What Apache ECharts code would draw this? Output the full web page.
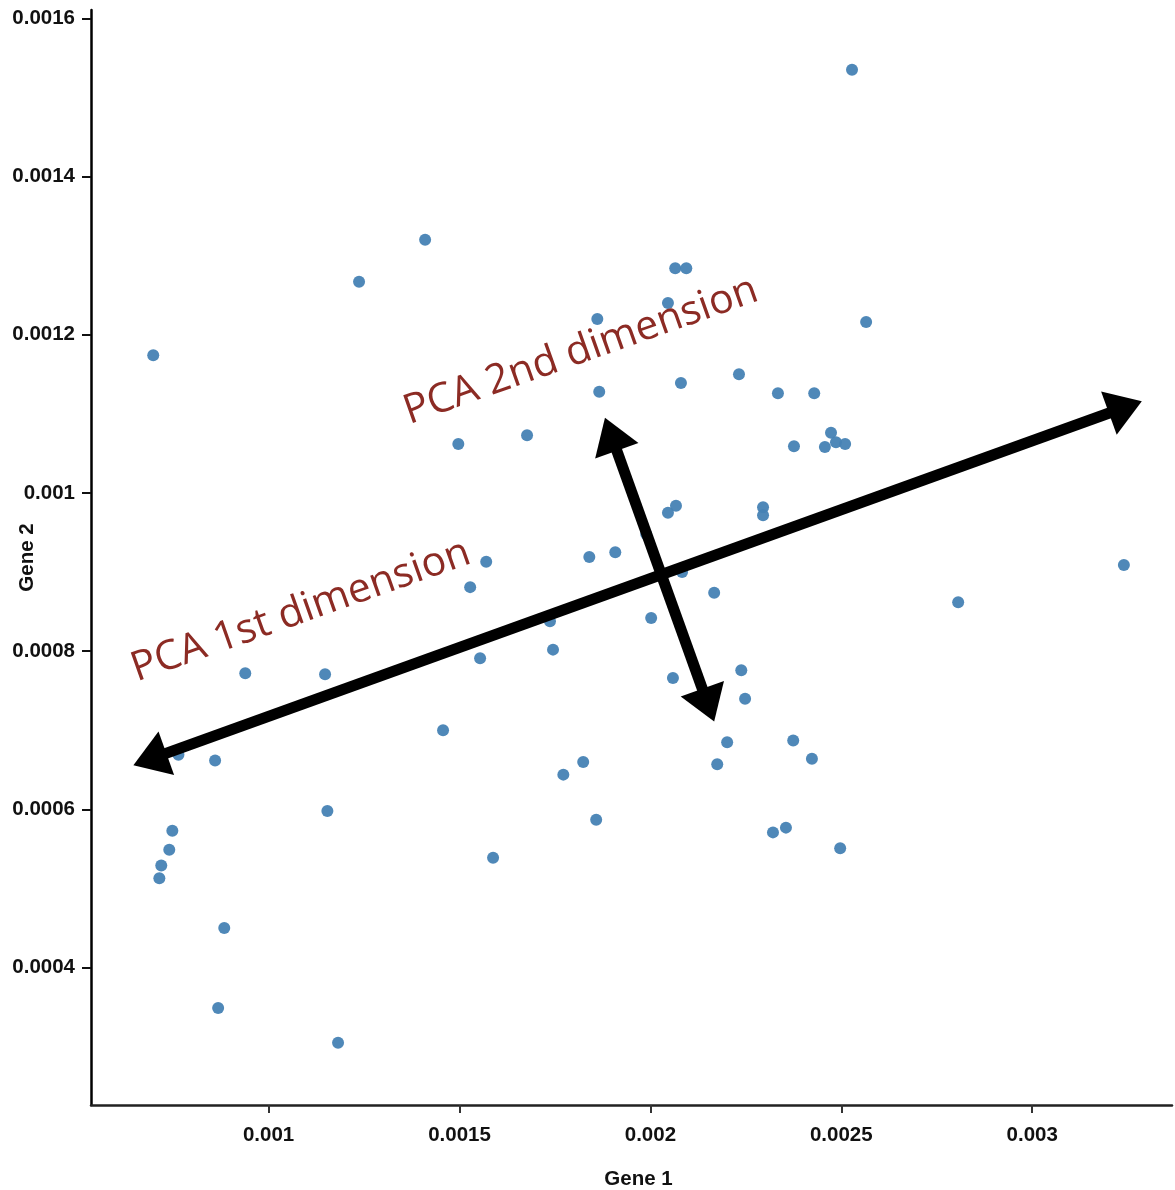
<!DOCTYPE html>
<html><head><meta charset="utf-8">
<script src="https://cdn.jsdelivr.net/npm/echarts@6/dist/echarts.min.js"></script>
<style>html,body{margin:0;padding:0;background:#fff}#c{width:1175px;height:1190px}</style>
</head><body><div id="c"></div>
<script>
// Gene 1 (x) and Gene 2 (y) values
const gene1 = [0.002528,0.001410,0.001237,0.002065,0.002094,0.002046,0.001861,0.002565,0.000698,0.002232,
  0.002080,0.001866,0.002334,0.002429,0.001677,0.001497,0.002376,0.002473,0.002486,0.002510,
  0.002457,0.002295,0.002295,0.002046,0.002067,0.001840,0.001908,0.001989,0.001570,0.001528,
  0.002083,0.002167,0.002806,0.003240,0.002002,0.001737,0.001745,0.000939,0.001148,0.001554,
  0.002059,0.002238,0.002248,0.001457,0.002201,0.002175,0.002374,0.002423,0.000860,0.000764,
  0.001824,0.001772,0.001858,0.001154,0.002321,0.002355,0.002497,0.001588,0.000748,0.000740,
  0.000719,0.000714,0.000884,0.000868,0.001182];
const gene2 = [0.001535,0.001320,0.001267,0.001284,0.001284,0.001240,0.001220,0.001216,0.001174,0.001150,
  0.001139,0.001128,0.001126,0.001126,0.001073,0.001062,0.001059,0.001076,0.001064,0.001062,
  0.001058,0.000982,0.000972,0.000975,0.000984,0.000919,0.000925,0.000948,0.000913,0.000881,
  0.000900,0.000874,0.000862,0.000909,0.000842,0.000838,0.000802,0.000772,0.000771,0.000791,
  0.000766,0.000776,0.000740,0.000700,0.000685,0.000657,0.000687,0.000664,0.000662,0.000669,
  0.000660,0.000644,0.000587,0.000598,0.000571,0.000577,0.000551,0.000539,0.000573,0.000549,
  0.000529,0.000513,0.000450,0.000349,0.000305];
const xTicks = [0.001, 0.0015, 0.002, 0.0025, 0.003];
const yTicks = [0.0004, 0.0006, 0.0008, 0.001, 0.0012, 0.0014, 0.0016];
const xRange = [0.000535, 0.003366];
const yRange = [0.0002264, 0.0016105];
// PCA direction arrows (tip-to-tip, in data units)
const arrowFrom = [[0.000646, 0.000656], [0.001881, 0.001095]];
const arrowTo   = [[0.003287, 0.001116], [0.002167, 0.000711]];
const arrowLabels = ['PCA 1st dimension', 'PCA 2nd dimension'];

const points = gene1.map((x, i) => [x, gene2[i]]);
const fmt = v => String(Number(Number(v).toPrecision(4)));

const chart = echarts.init(document.getElementById('c'), null, {renderer: 'canvas'});
const tickFont = {fontFamily: '"Liberation Sans", Arial, sans-serif', fontWeight: 'bold', fontSize: 20.5, color: '#111'};
const nameFont = {fontFamily: '"Liberation Sans", Arial, sans-serif', fontWeight: 'bold', fontSize: 20.5, color: '#111'};

chart.setOption({
  animation: false,
  backgroundColor: '#fff',
  grid: {left: 91, right: 3, top: 10, bottom: 85, containLabel: false, outerBoundsMode: 'none'},
  xAxis: {
    type: 'value', min: xRange[0], max: xRange[1],
    name: 'Gene 1', nameLocation: 'middle', nameGap: 64, nameMoveOverlap: false,
    nameTextStyle: Object.assign({padding: [0, 0, 0, 14]}, nameFont),
    axisLine: {show: true, onZero: false, lineStyle: {color: '#222', width: 2.5}},
    axisTick: {show: true, length: 8, customValues: xTicks, lineStyle: {color: '#333', width: 2}},
    axisLabel: Object.assign({customValues: xTicks, margin: 20, formatter: fmt}, tickFont),
    splitLine: {show: false}
  },
  yAxis: {
    type: 'value', min: yRange[0], max: yRange[1],
    name: 'Gene 2', nameLocation: 'middle', nameGap: 53, nameRotate: 90, nameMoveOverlap: false,
    nameTextStyle: nameFont,
    axisLine: {show: true, onZero: false, lineStyle: {color: '#000', width: 2.5}},
    axisTick: {show: true, length: 9, customValues: yTicks, lineStyle: {color: '#111', width: 2}},
    axisLabel: Object.assign({customValues: yTicks, margin: 16, formatter: fmt}, tickFont),
    splitLine: {show: false}
  },
  series: [{
    type: 'scatter', data: points, symbolSize: 12,
    itemStyle: {color: '#4682b4', opacity: 0.95}
  }]
});

// Draw annotation arrows and labels on top
const L = 35, W = 23, LW = 11;
const graphics = [];
arrowFrom.forEach((f, i) => {
  const A = chart.convertToPixel({gridIndex: 0}, f);
  const B = chart.convertToPixel({gridIndex: 0}, arrowTo[i]);
  const dx = B[0] - A[0], dy = B[1] - A[1], len = Math.hypot(dx, dy);
  const ux = dx / len, uy = dy / len, nx = -uy, ny = ux;
  graphics.push({type: 'line', z: 100, shape: {x1: A[0] + ux * L * 0.8, y1: A[1] + uy * L * 0.8, x2: B[0] - ux * L * 0.8, y2: B[1] - uy * L * 0.8},
    style: {stroke: '#000', lineWidth: LW}});
  graphics.push({type: 'polygon', z: 101, shape: {points: [A, [A[0] + ux * L + nx * W, A[1] + uy * L + ny * W], [A[0] + ux * L - nx * W, A[1] + uy * L - ny * W]]}, style: {fill: '#000'}});
  graphics.push({type: 'polygon', z: 101, shape: {points: [B, [B[0] - ux * L + nx * W, B[1] - uy * L + ny * W], [B[0] - ux * L - nx * W, B[1] - uy * L - ny * W]]}, style: {fill: '#000'}});
});
const labelPos = [[301, 611], [581, 351]];
arrowLabels.forEach((t, i) => {
  graphics.push({type: 'text', z: 102, x: labelPos[i][0], y: labelPos[i][1], rotation: 19.5 * Math.PI / 180,
    style: {text: t, font: '41px "Open Sans"', fill: '#8c2b24', textAlign: 'center', textVerticalAlign: 'middle', align: 'center', verticalAlign: 'middle'}});
});
chart.setOption({graphic: graphics});
</script></body></html>
